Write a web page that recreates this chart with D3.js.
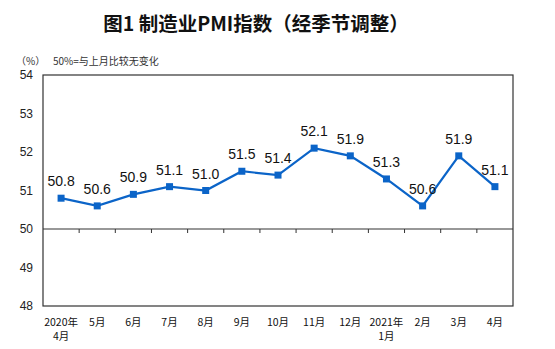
<!DOCTYPE html>
<html>
<head>
<meta charset="utf-8">
<script src="https://cdn.jsdelivr.net/npm/d3@7"></script>
<style>
  html, body { margin: 0; padding: 0; background: #fff; }
  svg { display: block; }
  text { font-family: "Liberation Sans", Arial, "Noto Sans CJK SC", sans-serif; }
</style>
</head>
<body>
<svg id="chart" width="555" height="349"></svg>
<script>
// Manufacturing PMI, seasonally adjusted, Apr 2020 – Apr 2021
const months = ["2020年\n4月", "5月", "6月", "7月", "8月", "9月", "10月", "11月", "12月", "2021年\n1月", "2月", "3月", "4月"];
const pmi = [50.8, 50.6, 50.9, 51.1, 51.0, 51.5, 51.4, 52.1, 51.9, 51.3, 50.6, 51.9, 51.1];
const yTicks = [48, 49, 50, 51, 52, 53, 54];

const svg = d3.select("#chart");
const plot = { left: 43, right: 513, top: 75, bottom: 306 };
const blue = "#0b64c8";
const cjk = '"Noto Sans CJK SC", sans-serif';

const x = d3.scaleBand().domain(months).range([plot.left, plot.right]).padding(0);
const y = d3.scaleLinear().domain([48, 54]).range([plot.bottom, plot.top]);

// Title
svg.append("text")
  .attr("x", 256).attr("y", 31)
  .attr("text-anchor", "middle")
  .style("font-family", cjk)
  .style("font-size", "19.5px").style("font-weight", "bold")
  .attr("fill", "#111")
  .text("图1 制造业PMI指数（经季节调整）");

// Unit and note
svg.append("text")
  .attr("x", 16).attr("y", 65)
  .style("font-family", cjk).style("font-size", "10px").attr("fill", "#333")
  .text("（%）");
svg.append("text")
  .attr("x", 53).attr("y", 65)
  .style("font-family", cjk).style("font-size", "10px").attr("fill", "#333")
  .text("50%=与上月比较无变化");

// Frame
svg.append("rect")
  .attr("x", plot.left).attr("y", plot.top)
  .attr("width", plot.right - plot.left).attr("height", plot.bottom - plot.top)
  .attr("fill", "none").attr("stroke", "#333").attr("stroke-width", 1.2);

// Y axis labels
const yAxis = d3.axisLeft(y).tickValues(yTicks).tickFormat(d3.format("d")).tickSize(0).tickPadding(10);
svg.append("g").attr("transform", `translate(${plot.left},0)`).call(yAxis)
  .call(g => g.select(".domain").remove())
  .call(g => g.selectAll("text").style("font-size", "12px").attr("fill", "#222"));

// Baseline at 50 with category ticks
const base = y(50);
svg.append("g").attr("transform", `translate(0,${base})`)
  .call(d3.axisBottom(x).tickSize(4).tickFormat(""))
  .call(g => g.select(".domain").remove())
  .call(g => g.selectAll(".tick").attr("transform", d => `translate(${x(d) + x.bandwidth()},0)`))
  .call(g => g.selectAll(".tick").filter((d, i) => i === months.length - 1).remove())
  .call(g => g.selectAll(".tick line").attr("stroke", "#333"));
svg.append("line")
  .attr("x1", plot.left).attr("x2", plot.right)
  .attr("y1", base).attr("y2", base)
  .attr("stroke", "#333").attr("stroke-width", 1.2);

// X category labels
const xl = svg.append("g").selectAll("text").data(months).join("text")
  .attr("text-anchor", "middle")
  .attr("x", d => x(d) + x.bandwidth() / 2)
  .attr("y", 326)
  .style("font-family", cjk).style("font-size", "10.5px").attr("fill", "#111");
xl.each(function(d) {
  const parts = d.split("\n");
  const t = d3.select(this);
  parts.forEach((p, i) => {
    t.append("tspan").attr("x", x(d) + x.bandwidth() / 2).attr("dy", i === 0 ? 0 : 14).text(p);
  });
});

// Line
const cx = (d, i) => x(months[i]) + x.bandwidth() / 2;
svg.append("path")
  .datum(pmi)
  .attr("d", d3.line().x(cx).y(d => y(d)))
  .attr("fill", "none").attr("stroke", blue).attr("stroke-width", 2.2);

// Markers
svg.append("g").selectAll("rect").data(pmi).join("rect")
  .attr("x", (d, i) => cx(d, i) - 3.5).attr("y", d => y(d) - 3.5)
  .attr("width", 7).attr("height", 7).attr("fill", blue);

// Value labels
svg.append("g").selectAll("text").data(pmi).join("text")
  .attr("text-anchor", "middle")
  .attr("x", cx).attr("y", d => y(d) - 12)
  .style("font-size", "14px").attr("fill", "#111")
  .text(d => d.toFixed(1));
</script>
</body>
</html>
